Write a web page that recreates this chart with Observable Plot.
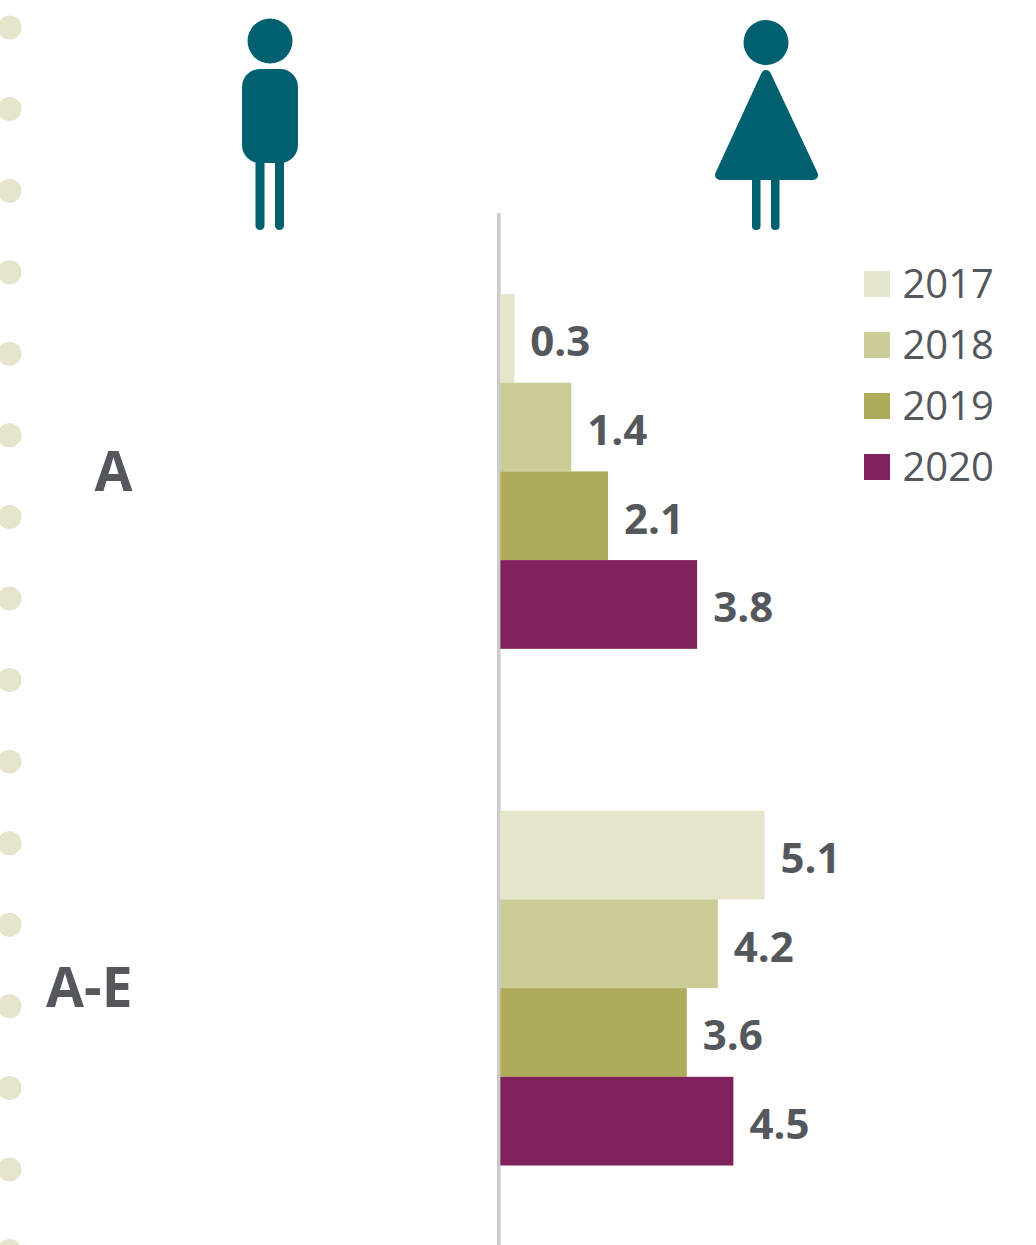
<!DOCTYPE html>
<html>
<head>
<meta charset="utf-8">
<script src="https://cdn.jsdelivr.net/npm/d3@7"></script>
<script src="https://cdn.jsdelivr.net/npm/@observablehq/plot@0.6"></script>
<style>
  html, body { margin: 0; padding: 0; background: #fff; overflow: hidden; }
  #chart { position: relative; width: 1036px; height: 1245px; }
  #chart svg { display: block; position: absolute; left: 0; top: 0; }
  #legend { position: absolute; left: 864px; top: 253px; font-family: "Open Sans", sans-serif; font-size: 40px; color: #54585d; }
  #legend div { display: flex; align-items: center; height: 61px; }
  #legend i { display: block; width: 26px; height: 26px; margin-right: 12.5px; }
  #legend span { position: relative; top: -1.5px; }
</style>
</head>
<body>
<div id="chart"><div id="legend"></div></div>
<script>
const groups = ["A", "A-E"];
const years = ["2017", "2018", "2019", "2020"];
const colors = ["#e4e5cb", "#cccc96", "#aeab5b", "#80225c"];
const values2017 = [0.27, 5.1];
const values2018 = [1.37, 4.2];
const values2019 = [2.08, 3.6];
const values2020 = [3.8, 4.5];
const series = [values2017, values2018, values2019, values2020];
const rows = groups.flatMap((group, i) => years.map((year, j) => ({group, year, value: series[j][i]})));

const ink = "#54585d", teal = "#00606f", font = "Open Sans, sans-serif";

function decor() {
  const g = d3.create("svg:g");
  // notebook dots down the left edge
  for (let k = 0; k < 16; k++) {
    g.append("circle").attr("cx", 9.5).attr("cy", 27.5 + k * 81.57).attr("r", 12).attr("fill", "#e4e5cb");
  }
  // baseline
  g.append("rect").attr("x", 497).attr("y", 213).attr("width", 3.6).attr("height", 1032).attr("fill", "#cccccc");
  // man
  g.append("circle").attr("cx", 270).attr("cy", 41).attr("r", 22.5).attr("fill", teal);
  g.append("rect").attr("x", 242).attr("y", 69).attr("width", 56).attr("height", 94).attr("rx", 18).attr("fill", teal);
  for (const x of [255.5, 275]) {
    g.append("rect").attr("x", x).attr("y", 155).attr("width", 9).attr("height", 75).attr("rx", 4.5).attr("fill", teal);
  }
  // woman
  g.append("circle").attr("cx", 766).attr("cy", 42.5).attr("r", 22.5).attr("fill", teal);
  g.append("path").attr("fill", teal).attr("stroke", teal).attr("stroke-width", 10).attr("stroke-linejoin", "round")
    .attr("d", "M766,75 L813,175 L720,175 Z");
  for (const x of [752, 771]) {
    g.append("rect").attr("x", x).attr("y", 172).attr("width", 8.5).attr("height", 58).attr("rx", 4).attr("fill", teal);
  }
  return g.node();
}

const plot = Plot.plot({
  width: 1036,
  height: 1245,
  margin: 0,
  x: {domain: [-500.3 / 51.8, (1036 - 500.3) / 51.8], axis: null},
  y: {domain: years, padding: 0, round: false, axis: null},
  fy: {domain: groups, range: [294, 1165.5], paddingInner: 0.3133, paddingOuter: 0, round: false, axis: null},
  color: {domain: years, range: colors},
  style: {background: "transparent"},
  marks: [
    Plot.barX(rows, {x: "value", y: "year", fy: "group", fill: "year"}),
    Plot.text(rows, {
      x: "value", y: "year", fy: "group", text: d => d.value.toFixed(1),
      textAnchor: "start", dx: 15.5, dy: 4, fill: ink, fontWeight: 700, fontSize: 42, fontFamily: font
    }),
    Plot.text(groups, {
      fy: d => d, text: d => d, frameAnchor: "left", textAnchor: "end", dx: 132, dy: 1,
      fill: ink, fontWeight: 700, fontSize: 55, fontFamily: font, letterSpacing: 6
    })
  ]
});
plot.prepend(decor());
document.getElementById("chart").prepend(plot);

const legend = d3.select("#legend");
years.forEach((y, i) => {
  const row = legend.append("div");
  row.append("i").style("background", colors[i]);
  row.append("span").text(y);
});
</script>
</body>
</html>
